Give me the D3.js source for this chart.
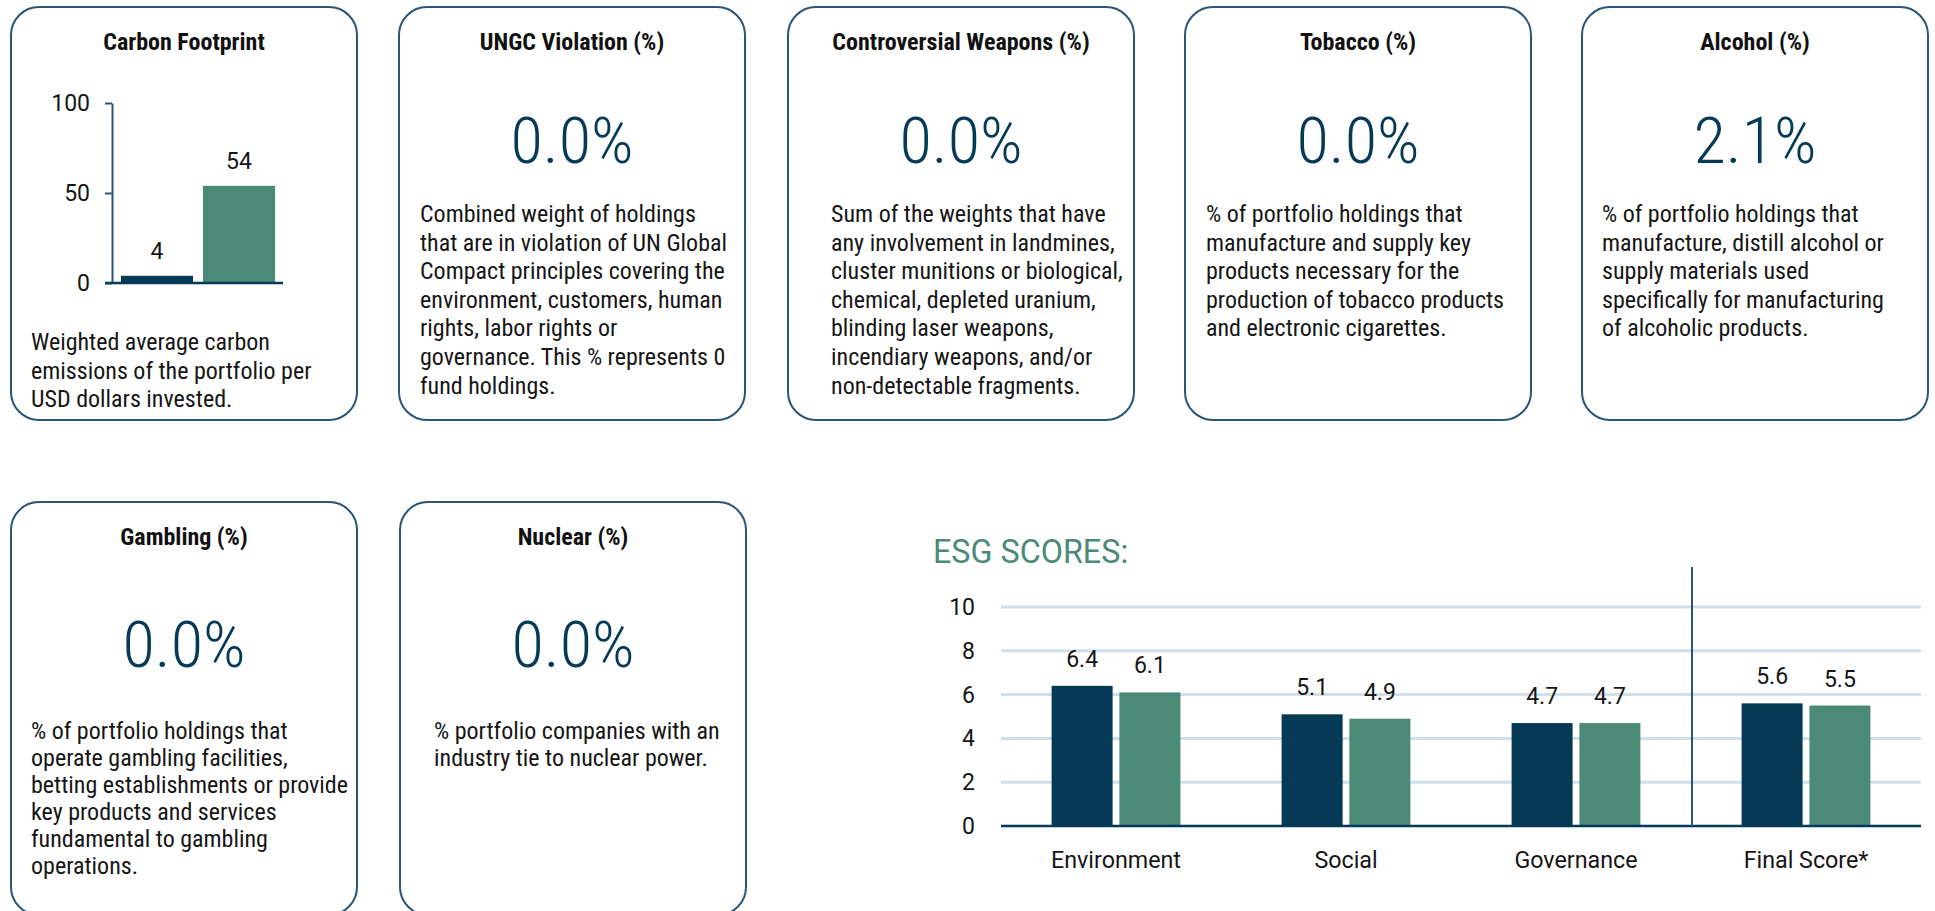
<!DOCTYPE html>
<html><head><meta charset="utf-8">
<script src="https://cdn.jsdelivr.net/npm/d3@7"></script>
<style>html,body{margin:0;padding:0;background:#fff;overflow:hidden}</style>
</head><body>
<svg id="c" width="1935" height="911"></svg>
<script>
// ---------- DATA ----------
const cardTitles = ["Carbon Footprint","UNGC Violation (%)","Controversial Weapons (%)","Tobacco (%)","Alcohol (%)","Gambling (%)","Nuclear (%)"];
const cardValues = [null, 0.0, 0.0, 0.0, 2.1, 0.0, 0.0];
const cardTexts = [
  ["Weighted average carbon","emissions of the portfolio per","USD dollars invested."],
  ["Combined weight of holdings","that are in violation of UN Global","Compact principles covering the","environment, customers, human","rights, labor rights or","governance. This % represents 0","fund holdings."],
  ["Sum of the weights that have","any involvement in landmines,","cluster munitions or biological,","chemical, depleted uranium,","blinding laser weapons,","incendiary weapons, and/or","non-detectable fragments."],
  ["% of portfolio holdings that","manufacture and supply key","products necessary for the","production of tobacco products","and electronic cigarettes."],
  ["% of portfolio holdings that","manufacture, distill alcohol or","supply materials used","specifically for manufacturing","of alcoholic products."],
  ["% of portfolio holdings that","operate gambling facilities,","betting establishments or provide","key products and services","fundamental to gambling","operations."],
  ["% portfolio companies with an","industry tie to nuclear power."]
];
const carbonLabels = ["Fund","Benchmark"];
const carbonValues = [4, 54];
const carbonTicks = [0, 50, 100];
const esgTitle = "ESG SCORES:";
const esgCategories = ["Environment","Social","Governance","Final Score*"];
const esgFund = [6.4, 5.1, 4.7, 5.6];
const esgBenchmark = [6.1, 4.9, 4.7, 5.5];
const esgTicks = [0, 2, 4, 6, 8, 10];

// ---------- LAYOUT / STYLE ----------
const cardLayout = [
  {x:11, y:7, tx:20, row:0}, {x:399, y:7, tx:21, row:0}, {x:788, y:7, tx:43, row:0},
  {x:1185, y:7, tx:21, row:0}, {x:1582, y:7, tx:20, row:0},
  {x:11, y:502, tx:20, row:1}, {x:400, y:502, tx:34, row:1}
];
const CW = 346, CH = 413;
const NAVY = "#053a56", GREEN = "#4a8a77", BORDER = "#2a5576", GRID = "#cfe0ea", TXT = "#151515";

function hasFont(name){
  const c = document.createElement("canvas").getContext("2d");
  const s = "Weighted average 0123456789";
  c.font = "40px monospace"; const a = c.measureText(s).width;
  c.font = `40px "${name}", monospace`; const b = c.measureText(s).width;
  return Math.abs(a-b) > 0.5;
}
const COND = hasFont("Roboto Condensed");
const CFAM = COND ? '"Roboto Condensed", Roboto, sans-serif' : 'Roboto, sans-serif';
const SX = COND ? 1 : 0.88;

const svg = d3.select("#c");

function ctext(g, x, y, str, o){
  const sx = o.sx != null ? o.sx : SX;
  return g.append("text")
    .attr("transform", `translate(${x},${y}) scale(${sx},1)`)
    .attr("text-anchor", o.anchor || "start")
    .style("font-family", o.family || CFAM)
    .style("font-size", o.size + "px")
    .style("font-weight", o.weight || 400)
    .style("fill", o.fill || TXT)
    .text(str);
}
const fmtPct = d => d3.format(".1f")(d) + "%";

// ---------- CARDS ----------
cardTitles.forEach((title, i) => {
  const L = cardLayout[i];
  const g = svg.append("g");
  g.append("rect").attr("x", L.x).attr("y", L.y).attr("width", CW).attr("height", CH)
    .attr("rx", 28).attr("ry", 28).attr("fill", "#fff").attr("stroke", BORDER).attr("stroke-width", 2);
  const cx = L.x + CW/2;
  ctext(g, cx, L.y + 43, title, {anchor:"middle", size:24, weight:700, fill:"#111"});
  if (cardValues[i] != null) {
    ctext(g, cx, L.y + (L.row ? 165 : 156), fmtPct(cardValues[i]), {anchor:"middle", size:64, weight:300, fill:NAVY, sx: SX*1.04});
  }
  const start = i === 0 ? L.y + 343 : L.y + (L.row ? 237 : 215);
  const lh = L.row ? 27 : 28.6;
  cardTexts[i].forEach((line, k) => {
    ctext(g, L.x + L.tx, start + k*lh, line, {size:24, fill:TXT});
  });
});

// ---------- CARBON CHART ----------
{
  const g = svg.append("g");
  const y = d3.scaleLinear().domain([0, 100]).range([283, 103]);
  const x = d3.scaleBand().domain(carbonLabels).range([116, 280]).paddingInner(0.12).paddingOuter(0.06);
  const ax = g.append("g").attr("transform", "translate(112,0)")
    .call(d3.axisLeft(y).tickValues(carbonTicks).tickSize(7).tickSizeOuter(0).tickFormat(""));
  ax.selectAll("path,line").attr("stroke", BORDER).attr("stroke-width", 2);
  carbonTicks.forEach(t => ctext(g, 90, y(t) + 8, String(t), {anchor:"end", size:23, family:"Roboto, sans-serif", sx:1}));
  g.selectAll("rect.cb").data(carbonValues).join("rect").attr("class","cb")
    .attr("x", (d,i) => x(carbonLabels[i])).attr("width", x.bandwidth())
    .attr("y", d => y(d)).attr("height", d => y(0) - y(d))
    .attr("fill", (d,i) => i === 0 ? NAVY : GREEN);
  carbonValues.forEach((v,i) => ctext(g, x(carbonLabels[i]) + x.bandwidth()/2, y(v) - 17, String(v), {anchor:"middle", size:23, family:"Roboto, sans-serif", sx:1}));
  g.append("line").attr("x1", 105).attr("x2", 283).attr("y1", y(0)).attr("y2", y(0))
    .attr("stroke", NAVY).attr("stroke-width", 2.5);
}

// ---------- ESG CHART ----------
{
  const g = svg.append("g");
  const RF = "Roboto, sans-serif";
  ctext(g, 933, 563, esgTitle, {size:34, fill:GREEN, family:RF, sx:0.95});
  const y = d3.scaleLinear().domain([0, 10]).range([826, 607]);
  const x0 = d3.scaleBand().domain(esgCategories).range([1001, 1921]);
  const x1 = d3.scaleBand().domain(["fund","bench"]).range([x0.bandwidth()*0.22, x0.bandwidth()*0.78]).paddingInner(0.1);
  esgTicks.filter(t => t > 0).forEach(t => {
    g.append("line").attr("x1", 1001).attr("x2", 1921).attr("y1", y(t)).attr("y2", y(t))
      .attr("stroke", GRID).attr("stroke-width", 3);
  });
  esgTicks.forEach(t => ctext(g, 975, y(t) + 8, String(t), {anchor:"end", size:23, family:RF, sx:1}));
  const series = [{k:"fund", v:esgFund, c:NAVY}, {k:"bench", v:esgBenchmark, c:GREEN}];
  series.forEach(s => {
    esgCategories.forEach((cat, i) => {
      const v = s.v[i];
      const bx = x0(cat) + x1(s.k);
      g.append("rect").attr("x", bx).attr("width", x1.bandwidth())
        .attr("y", y(v)).attr("height", y(0) - y(v)).attr("fill", s.c);
      ctext(g, bx + x1.bandwidth()/2, y(v) - 19, d3.format(".1f")(v), {anchor:"middle", size:23, family:RF, sx:1});
    });
  });
  esgCategories.forEach(cat => ctext(g, x0(cat) + x0.bandwidth()/2, 868, cat, {anchor:"middle", size:24, family:RF, sx:0.97}));
  g.append("line").attr("x1", 1001).attr("x2", 1921).attr("y1", y(0)).attr("y2", y(0))
    .attr("stroke", NAVY).attr("stroke-width", 2.5);
  const dx = x0("Final Score*") + 1;
  g.append("line").attr("x1", dx).attr("x2", dx).attr("y1", y(10) - 40).attr("y2", y(0))
    .attr("stroke", BORDER).attr("stroke-width", 2);
}
</script>
</body></html>
